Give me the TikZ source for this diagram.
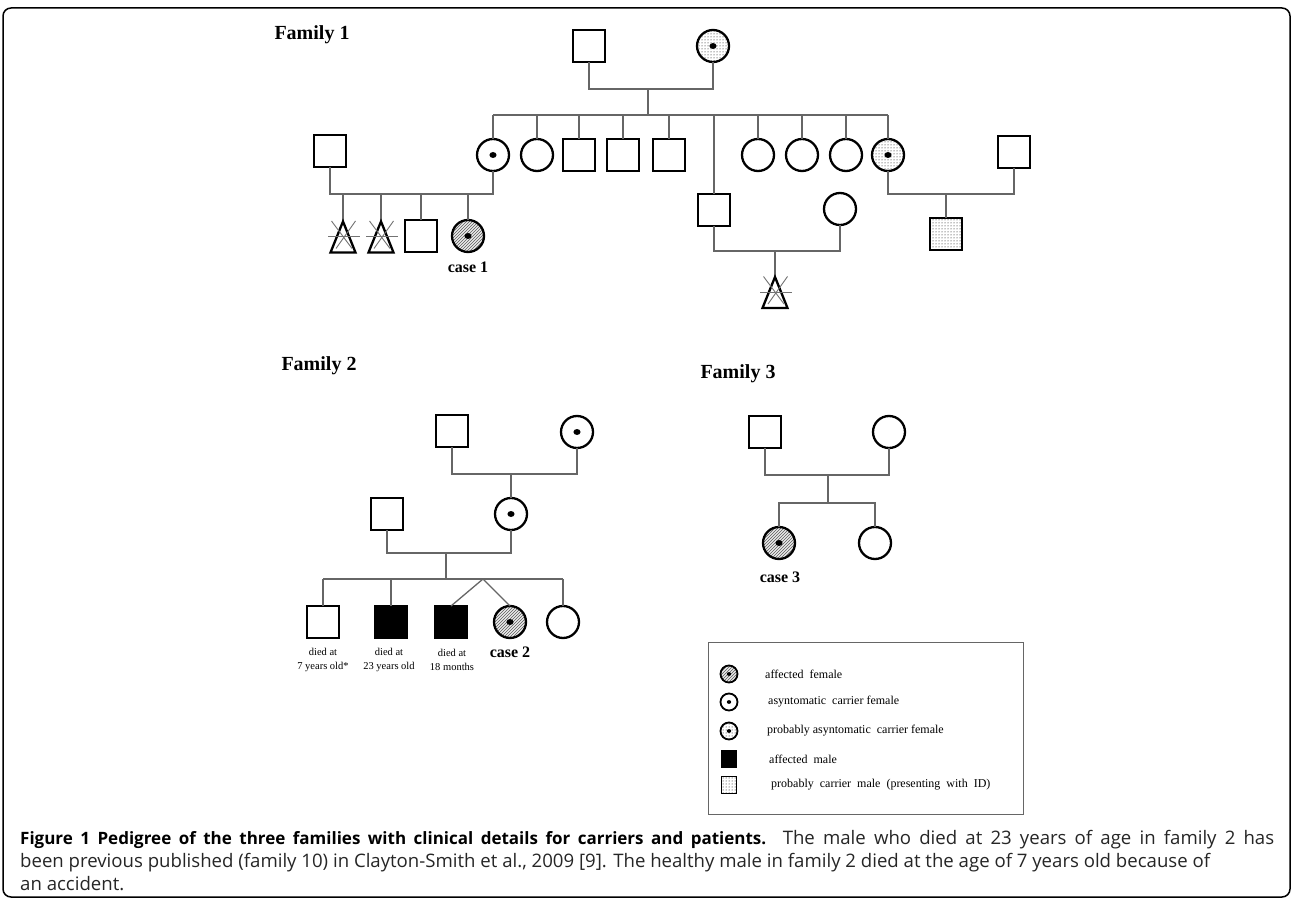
\documentclass[tikz,border=0pt]{standalone}
\usepackage{fontspec}
\setmainfont{Liberation Serif}
\newfontfamily\capfont{Open Sans}
\usetikzlibrary{patterns,calc,backgrounds}
\tikzset{
  conn/.style={draw=black!60, line width=1.3pt},
  sym/.style={draw=black, line width=2.3pt, minimum size=32pt, inner sep=0pt, outer sep=0pt},
  male/.style={sym, rectangle, fill=white},
  female/.style={sym, circle, fill=white},
  dmale/.style={sym, rectangle},
  affM/.style={sym, rectangle, fill=black},
  pmale/.style={sym, rectangle, pattern=dots},
  dotc/.style={path picture={\fill[black] (path picture bounding box.center) ellipse [x radius=3.6pt, y radius=3pt];}},
  carrier/.style={female, dotc},
  pcarrier/.style={sym, circle, pattern=dots, dotc},
  affF/.style={sym, circle, preaction={fill=gray!15}, pattern=north east lines, pattern color=black!65, dotc},
  tri/.style={minimum width=25pt, minimum height=31pt, inner sep=0pt, outer sep=0pt},
  trishape/.style={line width=2.3pt, line join=miter},
  xcross/.style={draw=black!55, line width=0.9pt},
  slash/.style={draw=black!60, line width=1pt},
  famlabel/.style={font=\bfseries\fontsize{20}{24}\selectfont, inner sep=0pt},
  caselabel/.style={font=\bfseries\fontsize{16}{19}\selectfont, inner sep=0pt},
  diedlabel/.style={font=\fontsize{10.5}{13.5}\selectfont, align=center, inner sep=0pt},
  legtext/.style={font=\fontsize{12}{14}\selectfont, anchor=west, inner sep=0pt},
  lsym/.style={draw=black, line width=1.8pt, minimum size=17pt, inner sep=0pt},
  ldot/.style={path picture={\fill[black] (path picture bounding box.center) ellipse [x radius=2.2pt, y radius=1.9pt];}},
  capline/.style={anchor=base west, inner sep=0pt, text=black!85, font=\capfont\fontsize{18.6}{22}\selectfont}
}
\begin{document}
\begin{tikzpicture}[x=1pt,y=-1pt]
\useasboundingbox (0,0) rectangle (1293,901);
\fill[white] (0,0) rectangle (1293,901);
\draw[line width=1.5pt, rounded corners=8pt] (3,8) rectangle (1290,897);

% ---------------- Family 1 ----------------
\node[famlabel] (fam1) at (312,35) {Family 1};
\node[male] (A1) at (589,46) {};
\node[pcarrier] (A2) at (713,46) {};
\coordinate (A12) at (648,89);
\coordinate (Asib) at (648,115);
\draw[conn] (A1.south) |- (A12) -| (A2.south);
\draw[conn] (A12) -- (Asib);

\node[carrier] (B1) at (493,155) {};
\node[female] (B2) at (537,155) {};
\node[male] (B3) at (579,155) {};
\node[male] (B4) at (623,155) {};
\node[male] (B5) at (669,155) {};
\node[male] (B6) at (714,210) {};
\node[female] (B7) at (758,155) {};
\node[female] (B8) at (802,155) {};
\node[female] (B9) at (846,155) {};
\node[pcarrier] (B10) at (888,155) {};
\draw[conn] (B1.north |- Asib) -- (B10.north |- Asib);
\foreach \b in {B1,B2,B3,B4,B5,B6,B7,B8,B9,B10} {\draw[conn] (\b.north) -- (\b.north |- Asib);}

\node[male] (BL) at (330,151) {};
\node[male] (BR) at (1014,152) {};
\node[female] (BS) at (840,209) {};

% left branch
\coordinate (Lmar) at (400,194);
\draw[conn] (BL.south) |- (Lmar) -| (B1.south);
\node[tri] (C1) at (343,237) {};
\node[tri] (C2) at (381,237) {};
\node[male] (C3) at (421,236) {};
\node[affF] (C4) at (468,236) {};
\foreach \c in {C1,C2,C3,C4} {\draw[conn] (\c.north) -- (\c.north |- Lmar);}
\node[caselabel] (case1) at (468,267) {case 1};

% middle branch
\coordinate (Mmar) at (775,251);
\draw[conn] (B6.south) |- (Mmar) -| (BS.south);
\node[tri] (D1) at (775,292.5) {};
\draw[conn] (Mmar) -- (D1.north);

% right branch
\coordinate (Rmar) at (946,194);
\draw[conn] (B10.south) |- (Rmar) -| (BR.south);
\node[pmale] (D2) at (946,234) {};
\draw[conn] (Rmar) -- (D2.north);

% triangles with crosses
\foreach \t in {C1,C2,D1} {
  \draw[trishape] (\t.north) -- (\t.south east) -- (\t.south west) -- cycle;
  \draw[xcross] ($(\t.center)+(-11.5,-16)$) -- ($(\t.center)+(9,11.5)$);
  \draw[xcross] ($(\t.center)+(12.5,-16)$) -- ($(\t.center)+(-7,11.5)$);
  \draw[xcross] ($(\t.center)+(-15,-0.5)$) -- ($(\t.center)+(17,-0.5)$);
}

% ---------------- Family 2 ----------------
\node[famlabel] (fam2) at (319,366) {Family 2};
\node[male] (E1) at (452,431) {};
\node[carrier] (E2) at (577,432) {};
\coordinate (Emar) at (511,474);
\node[male] (F1) at (387,514) {};
\node[carrier] (F2) at (511,514) {};
\draw[conn] (E1.south) |- (Emar) -| (E2.south);
\draw[conn] (Emar) -- (F2.north);
\coordinate (Fmar) at (446,553);
\coordinate (Fsib) at (446,579);
\draw[conn] (F1.south) |- (Fmar) -| (F2.south);
\draw[conn] (Fmar) -- (Fsib);

\node[dmale] (G1) at (323,622) {};
\node[affM] (G2) at (391,622) {};
\node[affM] (G3) at (451,622) {};
\node[affF] (G4) at (510,622) {};
\node[female] (G5) at (563,622) {};
\coordinate (Tw) at (483,579);
\draw[conn] (G1.north |- Fsib) -- (G5.north |- Fsib);
\foreach \g in {G1,G2,G5} {\draw[conn] (\g.north) -- (\g.north |- Fsib);}
\draw[conn] (G3.north) -- (Tw) -- (G4.north);
\begin{scope}[on background layer]
\foreach \g in {G1,G2,G3} {\draw[slash] ($(\g.south west)+(-6,5)$) -- ($(\g.north east)+(6,-5)$);}
\end{scope}
\node[diedlabel] (lG1) at (323,660) {died at\\7 years old*};
\node[diedlabel] (lG2) at (389,660) {died at\\23 years old};
\node[diedlabel] (lG3) at (452,660) {died at\\18 months};
\node[caselabel] (case2) at (510,652) {case 2};

% ---------------- Family 3 ----------------
\node[famlabel] (fam3) at (738,374) {Family 3};
\node[male] (H1) at (765,432) {};
\node[female] (H2) at (889,432) {};
\coordinate (Hmar) at (828,475);
\coordinate (Hsib) at (828,503);
\draw[conn] (H1.south) |- (Hmar) -| (H2.south);
\draw[conn] (Hmar) -- (Hsib);
\node[affF] (I1) at (779,543) {};
\node[female] (I2) at (875,543) {};
\draw[conn] (I1.north) |- (Hsib) -| (I2.north);
\node[caselabel] (case3) at (780,577) {case 3};

% ---------------- Legend ----------------
\node[draw=black!60, line width=1.2pt, minimum width=315pt, minimum height=172pt, anchor=north west, inner sep=0pt] (leg) at (708,642) {};
\node[lsym, circle, preaction={fill=gray!15}, pattern=north east lines, pattern color=black!65, ldot] (k1) at (729,674) {};
\node[legtext] (t1) at (765,674) {affected\ \ female};
\node[lsym, circle, fill=white, ldot] (k2) at (729,702) {};
\node[legtext] (t2) at (768,702) {asyntomatic\ \ carrier\ female};
\node[lsym, circle, pattern=dots, ldot] (k3) at (729,731) {};
\node[legtext] (t3) at (767,731) {probably asyntomatic\ \ carrier\ female};
\node[lsym, rectangle, minimum width=15pt, minimum height=17pt, fill=black] (k4) at (729,759) {};
\node[legtext] (t4) at (769,759) {affected\ \ male};
\node[lsym, rectangle, minimum width=15pt, minimum height=17pt, pattern=dots] (k5) at (729,785) {};
\node[legtext] (t5) at (771,785) {probably\ \ carrier\ \ male\ \ (presenting\ \ with\ \ ID)};

% ---------------- Caption ----------------
\node[capline] (cap1) at (20,844) {\makebox[1254pt][s]{{\color{black}\bfseries\fontsize{17}{22}\selectfont Figure 1 Pedigree of the three families with clinical details for carriers and patients.} The male who died at 23 years of age in family 2 has}};
\node[capline] (cap2) at (20,867) {been previous published (family 10) in Clayton-Smith et al., 2009 [9]. The healthy male in family 2 died at the age of 7 years old because of};
\node[capline] (cap3) at (20,890) {an accident.};
\end{tikzpicture}
\end{document}
